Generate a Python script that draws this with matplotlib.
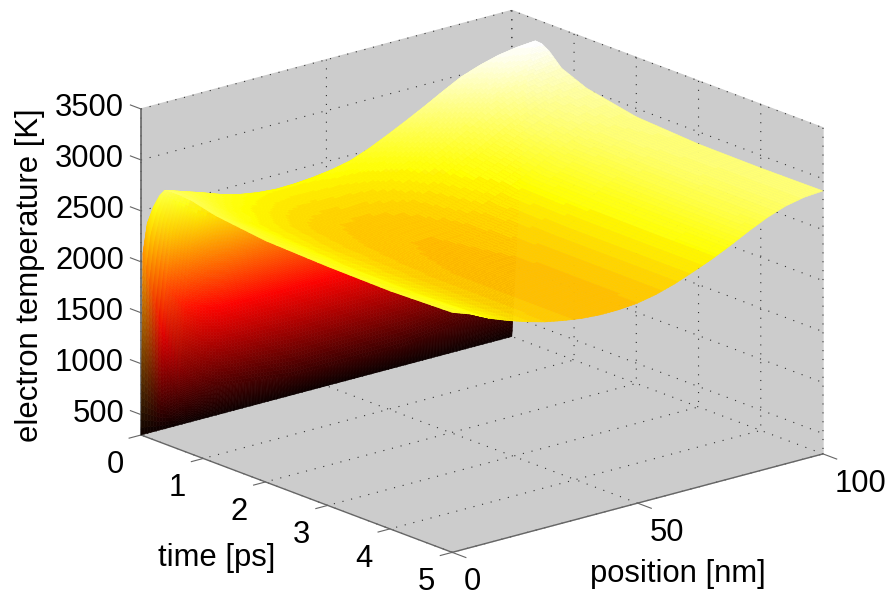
import numpy as np
import matplotlib
matplotlib.use("Agg")
import matplotlib.pyplot as plt
from mpl_toolkits.mplot3d import proj3d

# values
position = [0, 5, 10, 15, 20, 25, 30, 35, 40, 45, 50, 55, 60, 65, 70, 75, 80, 85, 90, 95, 100]
time = [0, 0.03, 0.1, 0.2, 0.3, 0.38, 0.48, 0.6, 0.8, 1.2, 2, 3, 4, 5]
temp_t000 = [300] * 21
temp_t003 = [2086, 1300, 850, 690, 600, 570, 550, 525, 500, 500, 500, 500, 500, 500, 500, 520, 550, 575, 600, 625, 650]
temp_t010 = [2400, 1750, 1500, 1430, 1400, 1400, 1400, 1400, 1400, 1400, 1400, 1400, 1400, 1400, 1400, 1400, 1420, 1440, 1460, 1480, 1500]
temp_t020 = [2586, 2300, 2100, 2010, 1950, 1920, 1900, 1900, 1900, 1920, 1950, 2000, 2050, 2120, 2200, 2300, 2400, 2450, 2500, 2550, 2600]
temp_t030 = [2720, 2590, 2450, 2350, 2300, 2270, 2260, 2260, 2270, 2300, 2340, 2410, 2490, 2590, 2690, 2800, 2900, 2990, 3060, 3130, 3180]
temp_t038 = [2790, 2730, 2670, 2605, 2555, 2525, 2510, 2515, 2530, 2555, 2595, 2665, 2750, 2840, 2935, 3035, 3130, 3195, 3245, 3275, 3290]
temp_t048 = [2800, 2730, 2660, 2590, 2535, 2500, 2480, 2478, 2490, 2512, 2550, 2620, 2700, 2795, 2890, 2995, 3090, 3160, 3225, 3265, 3285]
temp_t060 = [2800, 2725, 2640, 2565, 2510, 2470, 2445, 2435, 2440, 2460, 2495, 2560, 2640, 2735, 2830, 2935, 3030, 3105, 3165, 3210, 3240]
temp_t080 = [2790, 2695, 2600, 2530, 2470, 2425, 2390, 2378, 2380, 2395, 2425, 2480, 2550, 2640, 2730, 2830, 2930, 3005, 3060, 3095, 3118]
temp_t120 = [2730, 2635, 2540, 2475, 2415, 2365, 2330, 2312, 2305, 2315, 2338, 2385, 2450, 2530, 2620, 2715, 2810, 2885, 2950, 2990, 3015]
temp_t200 = [2668, 2590, 2510, 2445, 2385, 2338, 2300, 2277, 2265, 2268, 2282, 2322, 2375, 2445, 2525, 2615, 2710, 2790, 2860, 2900, 2917]
temp_t300 = [2645, 2570, 2490, 2428, 2370, 2323, 2285, 2262, 2250, 2252, 2267, 2306, 2355, 2425, 2505, 2595, 2690, 2770, 2835, 2870, 2880]
temp_t400 = [2636, 2565, 2490, 2428, 2370, 2323, 2285, 2260, 2245, 2248, 2262, 2303, 2355, 2425, 2500, 2590, 2685, 2765, 2830, 2865, 2875]
temp_t500 = [2655, 2590, 2500, 2430, 2370, 2320, 2285, 2258, 2245, 2247, 2263, 2300, 2355, 2425, 2500, 2586, 2680, 2765, 2830, 2868, 2881]
temp = np.array([temp_t000, temp_t003, temp_t010, temp_t020, temp_t030, temp_t038, temp_t048,
                 temp_t060, temp_t080, temp_t120, temp_t200, temp_t300, temp_t400, temp_t500], dtype=float)

position_ticks = [0, 50, 100]
time_ticks = [0, 1, 2, 3, 4, 5]
temp_ticks = [500, 1000, 1500, 2000, 2500, 3000, 3500]

W, H = 887, 596
plt.rcParams['font.family'] = ['Liberation Sans', 'DejaVu Sans']
fig = plt.figure(figsize=(W / 100, H / 100), dpi=100)
ax = fig.add_axes([0, 0, 1, 1], projection='3d', proj_type='ortho')
ax.view_init(elev=18.45, azim=-130)
ax.set_box_aspect((1, 1, 0.71))
ax.set_xticks(position_ticks)
ax.set_yticks(time_ticks)
ax.set_zticks(temp_ticks)
ax.set_xticklabels([])
ax.set_yticklabels([])
ax.set_zticklabels([])
ax.patch.set_alpha(0)

for axis in (ax.xaxis, ax.yaxis, ax.zaxis):
    axis.set_pane_color((0.8, 0.8, 0.8, 1))
    axis.pane.set_edgecolor((0.8, 0.8, 0.8, 1))
    axis.line.set_linewidth(0)
    axis._axinfo['grid'].update(color='#333333', linestyle=(0, (1, 7)), linewidth=0.8)
    axis._axinfo['tick'].update(inward_factor=0, outward_factor=0)

# smooth colours over the cells like shading interp, the steep first rows get more steps
iu = np.linspace(0, len(position) - 1, (len(position) - 1) * 6 + 1)
iv = np.concatenate([np.linspace(i, i + 1, 24, endpoint=False) if i < 4 else np.linspace(i, i + 1, 6, endpoint=False)
                     for i in range(len(time) - 1)] + [[len(time) - 1]])
cmap = plt.get_cmap('hot')
vertex_rgb = cmap((temp - 300) / (3290 - 300))[:, :, :3]


def refine(a):
    a = np.array([np.interp(iu, np.arange(a.shape[1]), row) for row in a])
    return np.array([np.interp(iv, np.arange(a.shape[0]), col) for col in a.T]).T


pf = np.interp(iu, np.arange(len(position)), position)
tf = np.interp(iv, np.arange(len(time)), time)
X, Y = np.meshgrid(pf, tf)
Z = refine(temp)
rgb = np.dstack([refine(vertex_rgb[:, :, i]) for i in range(3)])
rgb = (rgb[:-1, :-1] + rgb[1:, :-1] + rgb[:-1, 1:] + rgb[1:, 1:]) / 4
# colour steps show on the flat part only, the wall stays smooth
flat = tf[:-1] >= 0.3
rgb[flat] = np.round(rgb[flat] * 24) / 24
colors = np.dstack([rgb, np.ones(rgb.shape[:2])])

surf = ax.plot_surface(X, Y, Z, facecolors=colors, rstride=1, cstride=1,
                       shade=False, linewidth=0.4, antialiased=True)
surf.set_edgecolor(colors.reshape(-1, 4))

# box edges and tick stubs, like the old MATLAB axes
edge = '#666666'
ax.plot([0, 0], [0, 0], [300, 3500], color=edge, lw=1.2)
ax.plot([0, 0], [0, 5], [300, 300], color=edge, lw=1)
ax.plot([0, 100], [5, 5], [300, 300], color=edge, lw=1)
for v in position_ticks:
    ax.plot([v, v], [5, 5.22], [300, 300], color=edge, lw=0.8)
for v in time_ticks:
    ax.plot([0, -3.2], [v, v], [300, 300], color=edge, lw=0.8)
for v in temp_ticks:
    ax.plot([0, 0], [0, -0.17], [v, v], color=edge, lw=0.8)

ax.set_xlim(0, 100)
ax.set_ylim(5, 0)
ax.set_zlim(300, 3500)


def project(x, y, z):
    px, py, _ = proj3d.proj_transform(x, y, z, ax.get_proj())
    return px, py


# fit the box on the figure: left floor corner and right floor corner
fig.canvas.draw()
left = ax.transAxes.inverted().transform(ax.transData.transform(project(0, 0, 300)))
right = ax.transAxes.inverted().transform(ax.transData.transform(project(100, 5, 300)))
L = (823 - 141) / (right[0] - left[0])
x0 = 141 - L * left[0]
y0 = (H - 435) - L * left[1]
ax.set_position([x0 / W, y0 / H, L / W, L / H])
fig.canvas.draw()


def tick_label(x, y, z, s, dx, dy, ha='center'):
    ax.annotate(s, xy=project(x, y, z), xytext=(dx, dy), textcoords='offset pixels',
                ha=ha, va='center', fontsize=22.3, annotation_clip=False)


for v in position_ticks:
    tick_label(v, 5, 300, str(v), 12, -30, ha='left')
for v in time_ticks:
    tick_label(0, v, 300, str(v), -26, -30)
for v in temp_ticks:
    tick_label(0, 0, v, str(v), -17, 1, ha='right')

fig.text(30 / W, 1 - 275 / H, 'electron temperature [K]', rotation=90, fontsize=22.3,
         ha='center', va='center')
fig.text(217 / W, 1 - 558 / H, 'time [ps]', fontsize=22.3, ha='center', va='center')
fig.text(678 / W, 1 - 574 / H, 'position [nm]', fontsize=22.3, ha='center', va='center')

fig.savefig('out.png', dpi=100)
